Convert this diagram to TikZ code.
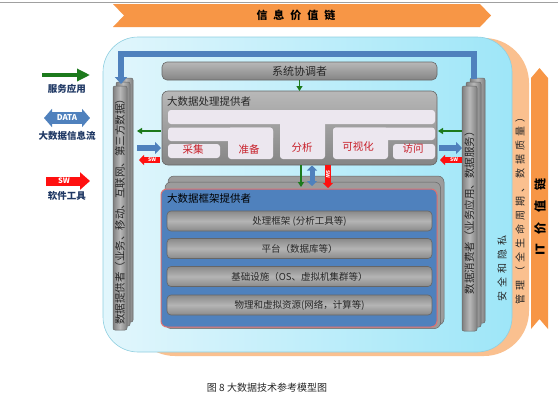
\documentclass[tikz,border=0pt]{standalone}
\usepackage{fontspec}
\setmainfont{Noto Sans CJK SC}
\usetikzlibrary{arrows.meta}
\definecolor{orangeA}{HTML}{F79646}
\definecolor{peach}{HTML}{FAC08F}
\definecolor{lbL}{HTML}{E2F6FC}
\definecolor{lbR}{HTML}{9EE6F8}
\definecolor{lbEdge}{HTML}{8FCFE0}
\definecolor{steel}{HTML}{4F81BD}
\definecolor{gLight}{HTML}{B8B8B8}
\definecolor{gMid}{HTML}{9C9C9C}
\definecolor{gDark}{HTML}{808080}
\definecolor{gEdge}{HTML}{666666}
\definecolor{rowEdge}{HTML}{8A8A8A}
\definecolor{rowMid}{HTML}{B4B4B4}
\definecolor{lav}{HTML}{ECE7EF}
\definecolor{cellred}{HTML}{C8202A}
\definecolor{darkgreen}{HTML}{1C7A1C}
\definecolor{navy}{HTML}{1F3864}
\definecolor{swred}{HTML}{FF1010}
\definecolor{fwRed}{HTML}{E07070}
\definecolor{txtdark}{HTML}{262626}
\definecolor{topline}{HTML}{A0A0A0}
\newcommand\fsz[1]{\fontsize{#1}{#1}\selectfont}
\newcommand\chgap[1]{\hspace{#1pt}}
\begin{document}
\begin{tikzpicture}[x=1pt,y=-1pt,
  every node/.style={inner sep=0pt,outer sep=0pt,text=txtdark},
  colshade/.style={left color=gDark,right color=gDark,middle color=gLight,draw=gEdge,line width=0.5pt,rounded corners=2pt},
  greybox/.style={draw=gEdge,line width=0.6pt,rounded corners=5pt,top color=gLight,bottom color=gMid!85!black},
  rowbox/.style={draw=gEdge,line width=0.6pt,rounded corners=4pt,top color=rowEdge,bottom color=rowEdge,middle color=rowMid,font=\fsz{9.5}},
  layerbox/.style={fill=gMid,draw=gEdge,line width=0.5pt,rounded corners=6pt},
  fwbox/.style={fill=steel,draw=fwRed,line width=1pt,rounded corners=6pt},
  celltxt/.style={text=cellred,font=\fsz{10.5}},
  garrow/.style={draw=darkgreen,line width=1.6pt,-{Triangle[width=6pt,length=5pt]}},
  barrow/.style={draw=steel,line width=6pt,-{Triangle[width=12pt,length=6pt]}},
  bdarrow/.style={draw=steel,line width=5pt,{Triangle[width=10pt,length=5pt]}-{Triangle[width=10pt,length=5pt]}},
  rarrow/.style={draw=swred,line width=6pt,-{Triangle[width=10pt,length=5pt]}},
  swtxt/.style={text=white,font=\fsz{5}\bfseries},
  legtxt/.style={text=navy,font=\fsz{9.5}\bfseries}]
\useasboundingbox (0,0) rectangle (558,400);
\fill[white] (0,0) rectangle (558,400);
\draw[line width=1.6pt, topline] (0,2.5) -- (558,2.5);

% banner
\fill[orangeA] (113,4) -- (480,4) -- (491,15.5) -- (480,27) -- (113,27) -- (124,15.5) -- cycle;
\node[font=\fsz{11}\bfseries, text=black] (banner) at (296,15.5) {信\chgap{6}息\chgap{6}价\chgap{6}值\chgap{6}链};

% peach and light-blue areas
\fill[peach, rounded corners=45pt] (130,38) rectangle (529,356);
\shade[left color=lbL, right color=lbR, rounded corners=35pt] (103,37) rectangle (512,352);
\draw[lbEdge, line width=0.6pt, rounded corners=35pt] (103,37) rectangle (512,352);

% IT value chain arrow
\fill[orangeA] (531,78) -- (539.5,68) -- (548,78) -- (548,329) -- (539.5,319) -- (531,329) -- cycle;
\node[rotate=90, font=\fsz{12}\bfseries, text=black] (itvc) at (540,217) {IT\chgap{10}价\chgap{10}值\chgap{10}链};
\node[rotate=90, font=\fsz{10}] (mgmt) at (520,208) {管\chgap{4}理\chgap{4}（\chgap{4}全\chgap{4}生\chgap{4}命\chgap{4}周\chgap{4}期\chgap{4}、\chgap{4}数\chgap{4}据\chgap{4}质\chgap{4}量\chgap{4}）};
\node[rotate=90, font=\fsz{10}] (secpriv) at (502,268) {安\chgap{4}全\chgap{4}和\chgap{4}隐\chgap{4}私};

% legend
\coordinate (lgA) at (42,75); \coordinate (lgB) at (90,75);
\draw[draw=darkgreen, line width=4pt, -{Triangle[width=12pt,length=13pt]}] (lgA) -- (lgB);
\node[legtxt] (legsvc) at (67,89) {服务应用};
\coordinate (ldA) at (44,118); \coordinate (ldB) at (90,118);
\draw[draw=steel, line width=12pt, {Triangle[width=18pt,length=8pt]}-{Triangle[width=18pt,length=8pt]}] (ldA) -- (ldB);
\node[text=white, font=\fsz{8}\bfseries] (legdata) at (67,118) {DATA};
\node[legtxt] (legflow) at (67,136) {大数据信息流};
\coordinate (lsA) at (46,181); \coordinate (lsB) at (90,181);
\draw[draw=swred, line width=9pt, -{Triangle[width=17pt,length=10pt]}] (lsA) -- (lsB);
\node[text=white, font=\fsz{7.5}\bfseries] (legsw) at (64,181) {SW};
\node[legtxt] (legtool) at (67,196) {软件工具};

% left column: data provider
\path[colshade] (119,78) rectangle (133,322);
\path[colshade] (116,82) rectangle (130,326);
\path[colshade] (113,86) rectangle (127,330);
\node[rotate=90, font=\fsz{10.5}] (provider) at (120,209) {数据提供者（业务、移动、互联网、第三方数据）};

% right column: data consumer
\path[colshade] (470,78) rectangle (485,323);
\path[colshade] (466,82) rectangle (481,327);
\path[colshade] (462,86) rectangle (477,331);
\node[rotate=90, font=\fsz{10.5}] (consumer) at (469.5,210) {数据消费者（业务应用、数据服务）};

% blue frame
\coordinate (fR) at (473.5,79); \coordinate (fRT) at (473.5,54);
\coordinate (fLT) at (121,54); \coordinate (fL) at (121,84);
\draw[steel, line width=6pt, -{Triangle[width=12pt,length=7pt]}] (fR) -- (fRT) -- (fLT) -- (fL);

% system orchestrator
\node[greybox, minimum width=275pt, minimum height=18pt, font=\fsz{11}] (orch) at (299.5,71) {系统协调者};

% processing provider
\node[greybox, minimum width=275pt, minimum height=74pt, rounded corners=6pt] (proc) at (299.5,128) {};
\draw[garrow] (orch.south) -- (proc.north);
\node[anchor=west, font=\fsz{10.5}] (proctitle) at (167,102) {大数据处理提供者};
\fill[lav, rounded corners=3pt] (168,110) rectangle (435,124);
\fill[lav, rounded corners=3pt] (280,110) rectangle (325,159);
\fill[lav, rounded corners=3pt] (168,127.5) rectangle (273,141);
\fill[lav, rounded corners=3pt] (228,127.5) rectangle (273,159);
\fill[lav, rounded corners=3pt] (168,144) rectangle (220,158);
\fill[lav, rounded corners=3pt] (333,127.5) rectangle (435,140);
\fill[lav, rounded corners=3pt] (333,127.5) rectangle (388,159);
\fill[lav, rounded corners=3pt] (393,144) rectangle (435,159);
\node[celltxt] (collect) at (193,149) {采集};
\node[celltxt] (prep) at (249,149) {准备};
\node[celltxt] (analy) at (302,148) {分析};
\node[celltxt] (visual) at (358,147) {可视化};
\node[celltxt] (access) at (413,149) {访问};

% arrows left of processing box
\coordinate (lg1) at (161,131); \coordinate (lg2) at (137,131);
\draw[garrow] (lg1) -- (lg2);
\coordinate (lb1) at (137,148); \coordinate (lb2) at (161,148);
\draw[barrow] (lb1) -- (lb2);
\coordinate (lr1) at (160,160); \coordinate (lr2) at (139,160);
\draw[rarrow] (lr1) -- (lr2);
\node[swtxt] (swl) at (152,160) {SW};

% arrows right of processing box
\coordinate (rg1) at (462,131); \coordinate (rg2) at (438,131);
\draw[garrow] (rg1) -- (rg2);
\coordinate (rb1) at (439,148); \coordinate (rb2) at (462,148);
\draw[barrow] (rb1) -- (rb2);
\coordinate (rr1) at (462,160); \coordinate (rr2) at (440,160);
\draw[rarrow] (rr1) -- (rr2);
\node[swtxt] (swr) at (454,160) {SW};

% framework provider stack
\path[layerbox] (168,176) rectangle (444,325);
\path[layerbox] (165,182) rectangle (440.5,328.5);
\node[fwbox, minimum width=276pt, minimum height=138pt] (frame) at (299,258) {};
\node[anchor=west, font=\fsz{10.5}, text=black] (frametitle) at (167,199) {大数据框架提供者};
\node[rowbox, minimum width=265pt, minimum height=20pt] (row1) at (299.5,221) {处理框架 (分析工具等)};
\node[rowbox, minimum width=265pt, minimum height=20pt] (row2) at (299.5,248.5) {平台（数据库等）};
\node[rowbox, minimum width=265pt, minimum height=20pt] (row3) at (299.5,276.5) {基础设施（OS、虚拟机集群等）};
\node[rowbox, minimum width=265pt, minimum height=20pt] (row4) at (299.5,305) {物理和虚拟资源(网络，计算等)};

% arrows between processing and framework
\coordinate (vg1) at (301,165); \coordinate (vg2) at (301,187);
\draw[garrow] (vg1) -- (vg2);
\coordinate (vb1) at (312,165.5); \coordinate (vb2) at (312,186);
\draw[bdarrow] (vb1) -- (vb2);
\coordinate (vr1) at (328,165); \coordinate (vr2) at (328,188);
\draw[rarrow] (vr1) -- (vr2);
\node[swtxt, rotate=-90] (swv) at (328,174) {SW};

% caption
\node[font=\fsz{10}] (caption) at (267,388) {图 8 大数据技术参考模型图};
\end{tikzpicture}
\end{document}
